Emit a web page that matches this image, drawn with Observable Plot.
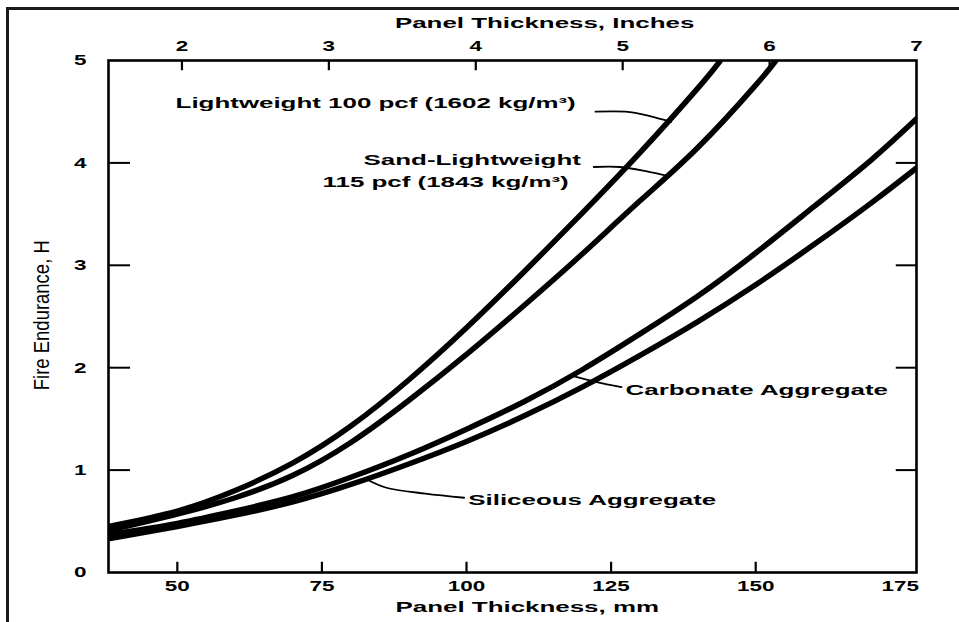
<!DOCTYPE html>
<html><head><meta charset="utf-8">
<script src="https://cdn.jsdelivr.net/npm/d3@7"></script>
<script src="https://cdn.jsdelivr.net/npm/@observablehq/plot@0.6"></script>
<style>
html,body{margin:0;padding:0;background:#fff;}
#wrap{position:relative;width:959px;height:622px;overflow:hidden;background:#fff;}
#border{position:absolute;left:6px;top:7px;width:1000px;height:700px;border-top:3px solid #1a1a1a;border-left:3px solid #1a1a1a;}
#wrap svg{position:absolute;left:0;top:0;}
</style></head><body><div id="wrap"><div id="border"></div></div>
<script>
// ---- data ----
const curveNames = ["Lightweight", "Sand-Lightweight", "Carbonate Aggregate", "Siliceous Aggregate"];

const lwThickness  = [38.1, 50, 60, 70, 80, 90, 100, 110, 120, 130, 140, 143.9];
const lwHours      = [0.45, 0.60, 0.80, 1.07, 1.43, 1.88, 2.39, 2.94, 3.51, 4.10, 4.73, 5.0];

const slwThickness = [38.1, 50, 60, 70, 80, 90, 100, 110, 120, 130, 140, 150, 153.5];
const slwHours     = [0.41, 0.57, 0.73, 0.95, 1.27, 1.68, 2.13, 2.61, 3.11, 3.63, 4.15, 4.76, 5.0];

const carbThickness = [38.1, 50, 60, 70, 80, 90, 100, 110, 120, 130, 140, 150, 160, 170, 177.8];
const carbHours     = [0.37, 0.48, 0.60, 0.74, 0.93, 1.15, 1.40, 1.67, 1.98, 2.33, 2.70, 3.12, 3.57, 4.03, 4.43];

const silThickness = [38.1, 50, 60, 70, 80, 90, 100, 110, 120, 130, 140, 150, 160, 170, 177.8];
const silHours     = [0.33, 0.45, 0.56, 0.69, 0.86, 1.06, 1.28, 1.53, 1.81, 2.12, 2.45, 2.81, 3.20, 3.61, 3.95];

const mmTicks     = [50, 75, 100, 125, 150];
const mmLabels    = [50, 75, 100, 125, 150, 175];
const inchTicks   = [2, 3, 4, 5, 6];
const inchLabels  = [2, 3, 4, 5, 6, 7];
const hourTicks   = [1, 2, 3, 4];
const hourLabels  = [0, 1, 2, 3, 4, 5];

const annotationLabels = ["Lightweight 100 pcf (1602 kg/m³)", "Sand-Lightweight", "115 pcf (1843 kg/m³)", "Carbonate Aggregate", "Siliceous Aggregate"];
const annotationMM     = [49.7, 82.2, 75.1, 127.5, 100.3];
const annotationHours  = [4.58, 4.02, 3.81, 1.78, 0.70];

const leaderId  = ["lw","lw","lw","lw", "slw","slw","slw","slw", "carb","carb","carb", "sil","sil","sil","sil"];
const leaderMM  = [122.3,127.5,131.5,135.4, 122.0,126.5,131.0,135.0, 126.8,122.5,118.3, 99.6,92.9,86.0,82.7];
const leaderH   = [4.50,4.50,4.46,4.40, 3.96,3.96,3.92,3.87, 1.81,1.86,1.92, 0.73,0.77,0.83,0.91];

const xTitle = "Panel Thickness, mm";
const topTitle = "Panel Thickness, Inches";
const yTitle = "Fire Endurance, H";

// ---- build tables ----
const seriesData = [[lwThickness, lwHours], [slwThickness, slwHours], [carbThickness, carbHours], [silThickness, silHours]];
const curveRows = seriesData.flatMap(([xs, ys], i) => xs.map((x, j) => ({series: curveNames[i], mm: x, h: ys[j]})));
const leaderRows = leaderId.map((id, i) => ({id, mm: leaderMM[i], h: leaderH[i]}));
const annRows = annotationLabels.map((t, i) => ({t, mm: annotationMM[i], h: annotationHours[i]}));
const IN = 25.4;
const xMin = 1.5 * IN, xMax = 7 * IN;

const chart = Plot.plot({
  width: 959, height: 622,
  marginLeft: 108, marginRight: 43, marginTop: 60, marginBottom: 50,
  x: {domain: [xMin, xMax]},
  y: {domain: [0, 5]},
  style: {fontFamily: "'Liberation Sans', Arial, sans-serif", fontSize: "15px", color: "#000", background: "transparent", overflow: "visible"},
  marks: [
    Plot.ruleX(mmTicks, {x: d => d, y1: 0, y2: 0.1, stroke: "#000", strokeWidth: 2.2}),
    Plot.ruleX(inchTicks, {x: d => d * IN, y1: 5, y2: 4.9, stroke: "#000", strokeWidth: 2.2}),
    Plot.ruleY(hourTicks, {y: d => d, x1: xMin, x2: xMin + 3.8, stroke: "#000", strokeWidth: 2}),
    Plot.ruleY(hourTicks, {y: d => d, x1: xMax, x2: xMax - 3.5, stroke: "#000", strokeWidth: 2}),
    Plot.line(leaderRows, {x: "mm", y: "h", z: "id", stroke: "#000", strokeWidth: 1.8, curve: "catmull-rom"}),
    Plot.line(curveRows, {x: "mm", y: "h", z: "series", stroke: "#000", strokeWidth: 5.5, curve: "natural", clip: true}),
    Plot.frame({stroke: "#000", strokeWidth: 2.6}),
    Plot.axisX(mmLabels, {anchor: "bottom", tickSize: 0, tickPadding: 8, tickFormat: d => String(d), fontWeight: "bold", fontSize: 15, label: null}),
    Plot.axisX(inchLabels.map(d => d * IN), {anchor: "top", tickSize: 0, tickPadding: 10, tickFormat: d => String(Math.round(d / IN)), fontWeight: "bold", fontSize: 15, label: null}),
    Plot.axisY(hourLabels, {anchor: "left", tickSize: 0, tickPadding: 22, tickFormat: d => String(d), fontWeight: "bold", fontSize: 15, label: null}),
    Plot.text(annRows, {x: "mm", y: "h", text: "t", textAnchor: "start", lineAnchor: "middle", fontWeight: "bold", fontSize: 14}),
    Plot.text([{t: xTitle, mm: 110.5}], {x: "mm", text: "t", frameAnchor: "bottom", dy: 35, lineAnchor: "middle", fontWeight: "bold", fontSize: 14}),
    Plot.text([{t: topTitle, mm: 113.5}], {x: "mm", text: "t", frameAnchor: "top", dy: -37, lineAnchor: "middle", fontWeight: "bold", fontSize: 14}),
    Plot.text([{t: yTitle, h: 1.78}], {y: "h", text: "t", frameAnchor: "left", dx: -67, rotate: -90, textAnchor: "start", lineAnchor: "middle", fontSize: 22, fill: "#000"})
  ]
});
document.getElementById("wrap").appendChild(chart);

// horizontally stretched lettering like the scanned original
const ANN_STRETCH = 1.85, TICK_STRETCH = 1.5, YTITLE_SQUEEZE = 0.84;
chart.querySelectorAll("text").forEach(t => {
  const w = t.getComputedTextLength();
  if (!w) return;
  let f = ANN_STRETCH;
  if (t.textContent === yTitle) f = YTITLE_SQUEEZE;
  else if (t.closest('g[aria-label$="tick label"]')) f = TICK_STRETCH;
  t.setAttribute("textLength", (w * f).toFixed(1));
  t.setAttribute("lengthAdjust", "spacingAndGlyphs");
});
</script></body></html>
